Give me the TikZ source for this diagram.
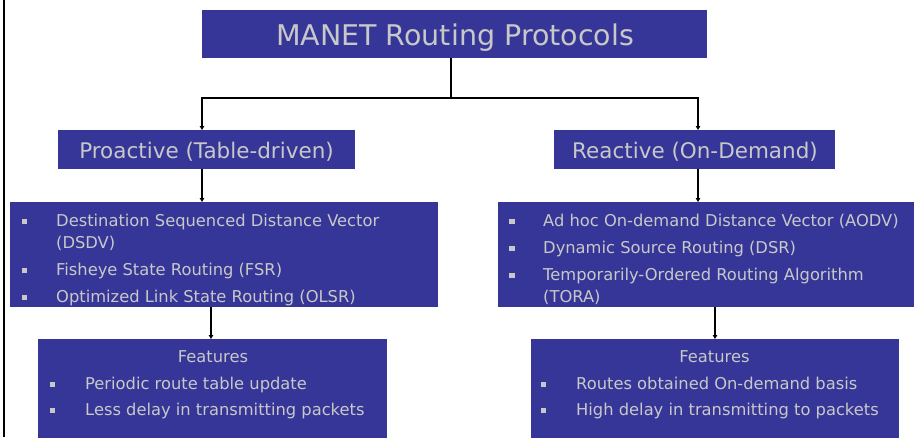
\documentclass[tikz,border=0pt]{standalone}
\usepackage{fontspec}
\setmainfont{DejaVu Sans}
\usetikzlibrary{arrows.meta}
\definecolor{boxblue}{HTML}{363698}
\definecolor{boxtext}{HTML}{C8C8C8}
\begin{document}
\begin{tikzpicture}[x=1pt,y=-1pt,
  box/.style={fill=boxblue,draw=none,inner sep=0pt,anchor=north west},
  txt/.style={text=boxtext,inner sep=0pt,anchor=base west,font=\fontsize{16.3}{19}\selectfont},
  hdr/.style={text=boxtext,inner sep=0pt,anchor=base,font=\fontsize{21.5}{25}\selectfont},
  bul/.style={fill=boxtext,draw=none,minimum size=5.3pt,inner sep=0pt},
  conn/.style={draw=black,line width=1.2pt},
  arr/.style={conn,-{Triangle[length=4pt,width=4.5pt]}}]
\useasboundingbox (0,0) rectangle (915,437);
\fill[white] (0,0) rectangle (915,437);
\draw[line width=2.2pt] (3.7,0) -- (3.7,437);
% boxes
\node[box,minimum width=505pt,minimum height=48pt] (title) at (202,10) {};
\node[box,minimum width=297pt,minimum height=39pt] (pro) at (58,130) {};
\node[box,minimum width=281pt,minimum height=39pt] (rea) at (554,130) {};
\node[box,minimum width=428pt,minimum height=105pt] (lst1) at (10,202) {};
\node[box,minimum width=416pt,minimum height=105pt] (lst2) at (498,202) {};
\node[box,minimum width=349pt,minimum height=99pt] (feat1) at (38,339) {};
\node[box,minimum width=368pt,minimum height=99pt] (feat2) at (531,339) {};
% headings
\node[hdr,font=\fontsize{28.5}{32}\selectfont] (ttitle) at (455,45) {MANET Routing Protocols};
\node[hdr] (tpro) at (206.5,158.5) {Proactive (Table-driven)};
\node[hdr] (trea) at (695,158.5) {Reactive (On-Demand)};
% left list
\node[bul] (b1) at (24.7,221.5) {};
\node[txt] (l1a) at (56,226) {Destination Sequenced Distance Vector};
\node[txt] (l1b) at (56,248) {(DSDV)};
\node[bul] (b2) at (24.7,270.5) {};
\node[txt] (l2) at (56,275) {Fisheye State Routing (FSR)};
\node[bul] (b3) at (24.7,297.5) {};
\node[txt] (l3) at (56,302) {Optimized Link State Routing (OLSR)};
% right list
\node[bul] (r1b) at (512,221.5) {};
\node[txt] (r1) at (543,226) {Ad hoc On-demand Distance Vector (AODV)};
\node[bul] (r2b) at (512,248.5) {};
\node[txt] (r2) at (543,253) {Dynamic Source Routing (DSR)};
\node[bul] (r3b) at (512,275.5) {};
\node[txt] (r3a) at (543,280) {Temporarily-Ordered Routing Algorithm};
\node[txt] (r3b) at (543,302) {(TORA)};
% features left
\node[txt,anchor=base] (f1h) at (213,362) {Features};
\node[bul] (f1b1) at (52.7,384.5) {};
\node[txt] (f1a) at (85,389) {Periodic route table update};
\node[bul] (f1b2) at (52.7,410.5) {};
\node[txt] (f1c) at (85,415) {Less delay in transmitting packets};
% features right
\node[txt,anchor=base] (f2h) at (714.5,362) {Features};
\node[bul] (f2b1) at (543.7,384.5) {};
\node[txt] (f2a) at (576,389) {Routes obtained On-demand basis};
\node[bul] (f2b2) at (543.7,410.5) {};
\node[txt] (f2c) at (576,415) {High delay in transmitting to packets};
% connectors
\coordinate (tj) at (451,98);
\coordinate (xl) at (202,0);
\coordinate (xr) at (698,0);
\coordinate (xl2) at (211,0);
\coordinate (xr2) at (715,0);
\draw[conn] (title.south -| tj) -- (tj);
\draw[arr] (tj) -| (pro.north -| xl);
\draw[arr] (tj) -| (rea.north -| xr);
\draw[arr] (pro.south -| xl) -- (lst1.north -| xl);
\draw[arr] (rea.south -| xr) -- (lst2.north -| xr);
\draw[arr] (lst1.south -| xl2) -- (feat1.north -| xl2);
\draw[arr] (lst2.south -| xr2) -- (feat2.north -| xr2);
\end{tikzpicture}
\end{document}
